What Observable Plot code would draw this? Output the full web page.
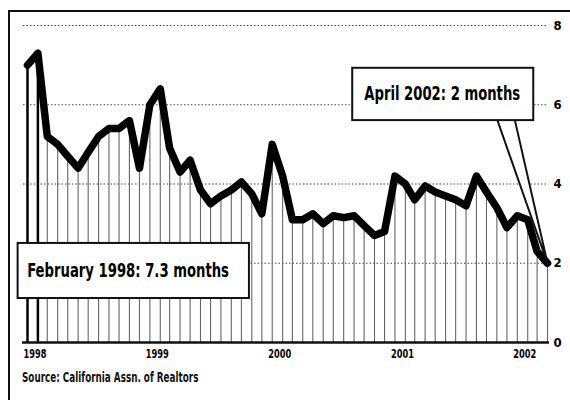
<!DOCTYPE html>
<html>
<head>
<meta charset="utf-8">
<script src="https://cdn.jsdelivr.net/npm/d3@7"></script>
<script src="https://cdn.jsdelivr.net/npm/@observablehq/plot@0.6"></script>
<style>
  html, body { margin: 0; padding: 0; background: #fff; }
  #wrap { position: relative; width: 570px; height: 400px; overflow: hidden; }
  #frame { position: absolute; left: 8px; top: 10px; right: -4px; bottom: -4px;
           border-top: 2px solid #111; border-left: 2px solid #111; pointer-events: none; }
  #chart { position: absolute; left: 0; top: 0; }
  #caption { position: absolute; left: 22px; top: 369px; white-space: nowrap;
             font-family: "Liberation Sans Narrow", "DejaVu Sans Condensed", "DejaVu Sans", sans-serif;
             font-size: 14px; font-weight: bold; color: #111;
             transform: scaleX(0.7); transform-origin: 0 0; }
</style>
</head>
<body>
<div id="wrap">
  <div id="chart"></div>
  <div id="frame"></div>
  <div id="caption">Source: California Assn. of Realtors</div>
</div>
<script>
const months = [
  "1998-01","1998-02","1998-03","1998-04","1998-05","1998-06","1998-07","1998-08","1998-09","1998-10","1998-11","1998-12",
  "1999-01","1999-02","1999-03","1999-04","1999-05","1999-06","1999-07","1999-08","1999-09","1999-10","1999-11","1999-12",
  "2000-01","2000-02","2000-03","2000-04","2000-05","2000-06","2000-07","2000-08","2000-09","2000-10","2000-11","2000-12",
  "2001-01","2001-02","2001-03","2001-04","2001-05","2001-06","2001-07","2001-08","2001-09","2001-10","2001-11","2001-12",
  "2002-01","2002-02","2002-03","2002-04"
];
const supply = [
  7.0, 7.3, 5.2, 5.0, 4.7, 4.4, 4.8, 5.2, 5.4, 5.4, 5.6, 4.4,
  6.0, 6.4, 4.9, 4.3, 4.6, 3.85, 3.5, 3.7, 3.85, 4.05, 3.75, 3.25,
  5.0, 4.2, 3.1, 3.1, 3.25, 3.0, 3.2, 3.15, 3.2, 2.95, 2.7, 2.8,
  4.2, 4.0, 3.6, 3.95, 3.8, 3.7, 3.6, 3.45, 4.2, 3.8, 3.4, 2.9,
  3.2, 3.1, 2.3, 2.0
];
const yTicks = [0, 2, 4, 6, 8];
const yearTicks = ["1998-01", "1999-01", "2000-01", "2001-01", "2002-01"];
const annoLabels = ["April 2002: 2 months", "February 1998: 7.3 months"];
const annoWidths = [156, 202];
const annoBoxX1 = ["2000-08-28", "1997-12-04"];
const annoBoxX2 = ["2002-02-19", "1999-10-25"];
const annoBoxY1 = [5.6, 1.11];
const annoBoxY2 = [6.92, 2.5];
const annoTextX = ["2001-05-22", "1998-10-28"];
const annoTextY = [6.27, 1.8];
const wedgeX = ["2001-11-03", "2002-04-01", "2001-12-25"];
const wedgeY = [5.6, 2.0, 5.6];

const parse = d3.utcParse("%Y-%m");
const parseD = d3.utcParse("%Y-%m-%d");
const data = months.map((m, i) => ({date: parse(m), value: supply[i], idx: i}));
const boxes = annoLabels.map((l, i) => ({
  label: l, x1: parseD(annoBoxX1[i]), x2: parseD(annoBoxX2[i]),
  y1: annoBoxY1[i], y2: annoBoxY2[i], tx: parseD(annoTextX[i]), ty: annoTextY[i]
}));
const wedge = wedgeX.map((x, i) => ({x: parseD(x), y: wedgeY[i]}));

const font = '"Liberation Sans Narrow", "DejaVu Sans Condensed", "DejaVu Sans", sans-serif';

const chart = Plot.plot({
  width: 570,
  height: 370,
  marginLeft: 27,
  marginRight: 23,
  marginTop: 25,
  marginBottom: 28,
  style: {fontFamily: font, background: "transparent", overflow: "visible"},
  x: {type: "utc", domain: [parse("1998-01"), parse("2002-04")]},
  y: {domain: [0, 8]},
  marks: [
    Plot.ruleY(yTicks.filter(d => d > 0), {stroke: "#222", strokeWidth: 1, strokeDasharray: "1.5,2", strokeOpacity: 0.85, insetLeft: -4}),
    Plot.ruleX(data, {x: "date", y1: 0, y2: "value",
      stroke: d => d.idx < 2 ? "#000" : "#666",
      strokeWidth: d => d.idx < 2 ? 2.5 : 1.1,
      strokeDasharray: d => d.idx < 2 ? null : "2,1.5"}),
    Plot.ruleY([0], {stroke: "#111", strokeWidth: 2.5, insetLeft: -5, insetRight: -2}),
    Plot.line(data, {x: "date", y: "value", stroke: "#000", strokeWidth: 7.5, strokeLinejoin: "round", strokeLinecap: "round"}),
    Plot.line(wedge, {x: "x", y: "y", fill: "#fff", stroke: "#111", strokeWidth: 2}),
    Plot.rect(boxes, {x1: "x1", x2: "x2", y1: "y1", y2: "y2", fill: "#fff", stroke: "#111", strokeWidth: 2}),
    Plot.text(boxes, {x: "tx", y: "ty", text: "label", fontSize: 19, fontWeight: "bold", fill: "#000", className: "anno"}),
    Plot.axisY(yTicks, {anchor: "right", tickSize: 0, tickPadding: 6, fontSize: 13, fontWeight: "bold", fill: "#000"}),
    Plot.axisX(yearTicks.map(parse), {anchor: "bottom", tickSize: 0, tickPadding: 6, textAnchor: "start", dx: -4,
      tickFormat: d3.utcFormat("%Y"), fontSize: 13, fontWeight: "bold", fill: "#000", className: "xlab"})
  ]
});
document.getElementById("chart").appendChild(chart);
function squeeze(t, target) {
  const w = t.getComputedTextLength();
  if (!w) return;
  const s = Math.min(1, target / w);
  const tr = t.getAttribute("transform") || "";
  t.setAttribute("transform", tr + ` scale(${s.toFixed(3)},1)`);
}
chart.querySelectorAll('.anno text').forEach((t, i) => squeeze(t, annoWidths[i]));
chart.querySelectorAll('.xlab text').forEach(t => squeeze(t, 23));
</script>
</body>
</html>
